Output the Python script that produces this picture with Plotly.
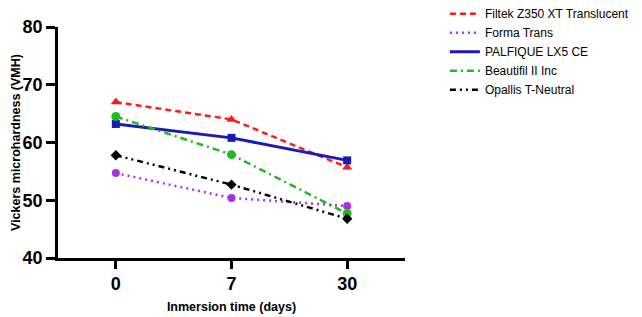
import plotly.graph_objects as go

categories = ["0", "7", "30"]
series_names = ["Filtek Z350 XT Translucent", "Forma Trans", "PALFIQUE LX5 CE",
                "Beautifil II Inc", "Opallis T-Neutral"]
filtek = [67.0, 64.0, 55.7]
forma = [54.7, 50.4, 49.0]
palfique = [63.2, 60.8, 56.9]
beautifil = [64.5, 57.9, 47.7]
opallis = [57.8, 52.7, 46.8]
y_ticks = [40, 50, 60, 70, 80]

values = [filtek, forma, palfique, beautifil, opallis]
colors = ["#FF1A1A", "#A832E0", "#1A1AB4", "#22B822", "#000000"]
dashes = ["6px,4px", "2px,4px", "solid", "7px,4px,2px,4px", "6px,4px,2px,4px,2px,4px"]
symbols = ["triangle-up", "circle", "square", "circle", "diamond"]
msizes = [9, 8, 8, 9, 8]
widths = [2.5, 2.5, 3, 2.5, 2.5]

fig = go.Figure()
for name, v, c, d, s, ms, w in zip(series_names, values, colors, dashes, symbols, msizes, widths):
    fig.add_trace(go.Scatter(x=categories, y=v, mode="lines+markers", name=name,
                             line=dict(color=c, dash=d, width=w),
                             marker=dict(symbol=s, size=ms, color=c),
                             showlegend=False))
    fig.add_trace(go.Scatter(x=[None], y=[None], mode="lines", name=name,
                             line=dict(color=c, dash=d, width=w), showlegend=True))

fig.update_layout(
    width=642, height=317,
    margin=dict(l=58, r=237, t=27, b=59, autoexpand=False),
    paper_bgcolor="white", plot_bgcolor="white",
    font=dict(family="Arial, Liberation Sans, sans-serif", color="black"),
    showlegend=True,
    legend=dict(x=1.115, y=1.12, xanchor="left", yanchor="top",
                font=dict(size=12, color="black"), bgcolor="rgba(0,0,0,0)",
                tracegroupgap=0, itemwidth=30),
    xaxis=dict(type="category", range=[-0.5, 2.5], showgrid=False, zeroline=False,
               showline=True, linecolor="black", linewidth=2.5,
               ticks="outside", ticklen=8, tickwidth=2.5, tickcolor="black",
               tickfont=dict(size=18, weight="bold"),
               title=dict(text="<b>Inmersion time (days)</b>", font=dict(size=12.5), standoff=9)),
    yaxis=dict(range=[40, 80], tickvals=y_ticks, showgrid=False, zeroline=False,
               showline=True, linecolor="black", linewidth=2.5,
               ticks="outside", ticklen=9, tickwidth=2.5, tickcolor="black",
               tickfont=dict(size=18, weight="bold"),
               title=dict(text="<b>Vickers microhardness (VMH)</b>", font=dict(size=12.5), standoff=0)),
)

fig.write_html("out.html")
